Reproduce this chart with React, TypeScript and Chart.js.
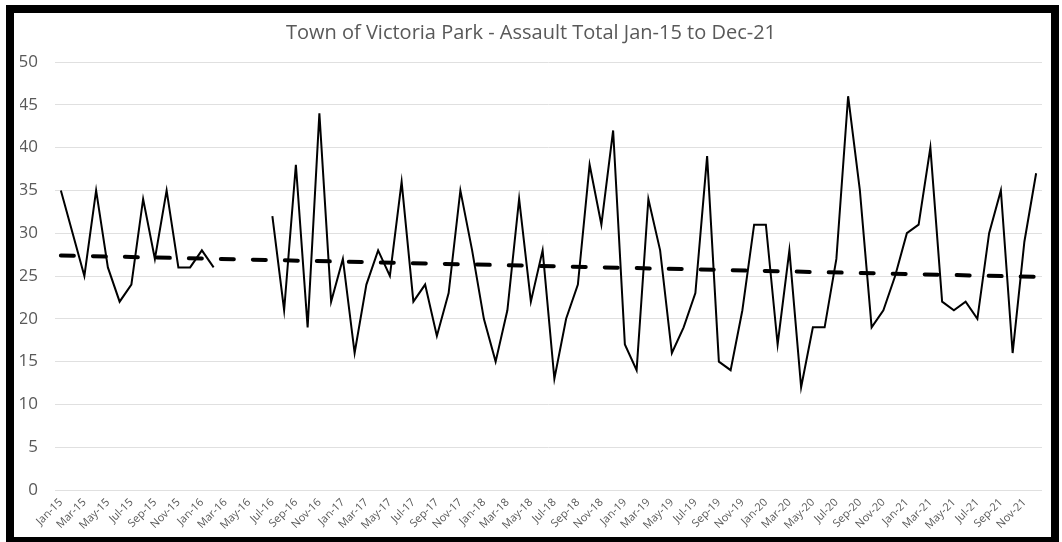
import React, { useEffect, useRef } from "react";
import { Chart, registerables } from "chart.js";

Chart.register(...registerables);

const months = [
  "Jan-15", "Feb-15", "Mar-15", "Apr-15", "May-15", "Jun-15", "Jul-15", "Aug-15", "Sep-15", "Oct-15", "Nov-15", "Dec-15",
  "Jan-16", "Feb-16", "Mar-16", "Apr-16", "May-16", "Jun-16", "Jul-16", "Aug-16", "Sep-16", "Oct-16", "Nov-16", "Dec-16",
  "Jan-17", "Feb-17", "Mar-17", "Apr-17", "May-17", "Jun-17", "Jul-17", "Aug-17", "Sep-17", "Oct-17", "Nov-17", "Dec-17",
  "Jan-18", "Feb-18", "Mar-18", "Apr-18", "May-18", "Jun-18", "Jul-18", "Aug-18", "Sep-18", "Oct-18", "Nov-18", "Dec-18",
  "Jan-19", "Feb-19", "Mar-19", "Apr-19", "May-19", "Jun-19", "Jul-19", "Aug-19", "Sep-19", "Oct-19", "Nov-19", "Dec-19",
  "Jan-20", "Feb-20", "Mar-20", "Apr-20", "May-20", "Jun-20", "Jul-20", "Aug-20", "Sep-20", "Oct-20", "Nov-20", "Dec-20",
  "Jan-21", "Feb-21", "Mar-21", "Apr-21", "May-21", "Jun-21", "Jul-21", "Aug-21", "Sep-21", "Oct-21", "Nov-21", "Dec-21",
];

const assaults: (number | null)[] = [
  35, 30, 25, 35, 26, 22, 24, 34, 27, 35, 26, 26,
  28, 26, null, null, null, null, 32, 21, 38, 19, 44, 22,
  27, 16, 24, 28, 25, 36, 22, 24, 18, 23, 35, 28,
  20, 15, 21, 34, 22, 28, 13, 20, 24, 38, 31, 42,
  17, 14, 34, 28, 16, 19, 23, 39, 15, 14, 21, 31,
  31, 17, 28, 12, 19, 19, 27, 46, 35, 19, 21, 25,
  30, 31, 40, 22, 21, 22, 20, 30, 35, 16, 29, 37,
];

// linear trendline value at first and last month
const trendEnds = [27.4, 24.9];

const titleText = "Town of Victoria Park - Assault Total Jan-15 to Dec-21";

export default function App() {
  const ref = useRef<HTMLCanvasElement>(null);

  useEffect(() => {
    const last = months.length - 1;
    const trend = months.map((_, i) => (i === 0 ? trendEnds[0] : i === last ? trendEnds[1] : null));
    const chart = new Chart(ref.current as HTMLCanvasElement, {
      type: "line",
      data: {
        labels: months,
        datasets: [
          {
            label: "Assault Total",
            data: assaults,
            borderColor: "#000000",
            borderWidth: 2,
            pointRadius: 0,
            tension: 0,
            spanGaps: false,
            order: 2,
          },
          {
            label: "Linear (Assault Total)",
            data: trend,
            borderColor: "#000000",
            borderWidth: 4,
            borderDash: [13, 19],
            borderCapStyle: "round",
            pointRadius: 0,
            tension: 0,
            spanGaps: true,
            order: 1,
          },
        ],
      },
      options: {
        animation: false,
        responsive: false,
        maintainAspectRatio: false,
        layout: { padding: { left: 20, right: 20, top: 0, bottom: 0 } },
        plugins: {
          legend: { display: false },
          tooltip: { enabled: false },
          title: {
            display: true,
            text: titleText,
            color: "#595959",
            font: { family: "'Open Sans', 'Noto Sans', sans-serif", size: 20, weight: "normal", lineHeight: 1.2 },
            padding: { top: 21, bottom: 17 },
          },
        },
        scales: {
          x: {
            offset: true,
            grid: { display: false, drawTicks: false },
            border: { display: false },
            ticks: {
              autoSkip: false,
              maxRotation: 45,
              minRotation: 45,
              padding: 6,
              color: "#595959",
              font: { family: "'Open Sans', 'Noto Sans', sans-serif", size: 11 },
              callback: (_v: any, i: number) => (i % 2 === 0 ? months[i] : ""),
            },
            afterFit: (s: any) => {
              s.height = 52;
            },
          },
          y: {
            min: 0,
            max: 50,
            ticks: {
              stepSize: 5,
              padding: 17,
              color: "#595959",
              font: { family: "'Open Sans', 'Noto Sans', sans-serif", size: 17 },
            },
            grid: { color: "#e0e0e0", lineWidth: 1, drawTicks: false },
            border: { display: false },
            afterFit: (s: any) => {
              s.width = 35;
            },
          },
        },
      },
    } as any);
    return () => chart.destroy();
  }, []);

  return (
    <div
      style={{
        position: "fixed",
        left: 0,
        top: 0,
        width: 1062,
        height: 542,
        background: "#ffffff",
        overflow: "hidden",
      }}
    >
      <div
        style={{
          position: "absolute",
          left: 6,
          top: 5,
          width: 1053,
          height: 540,
          border: "8px solid #000000",
          boxSizing: "border-box",
        }}
      />
      <canvas
        ref={ref}
        width={1062}
        height={542}
        style={{ position: "absolute", left: 0, top: 0, width: 1062, height: 542 }}
      />
    </div>
  );
}
